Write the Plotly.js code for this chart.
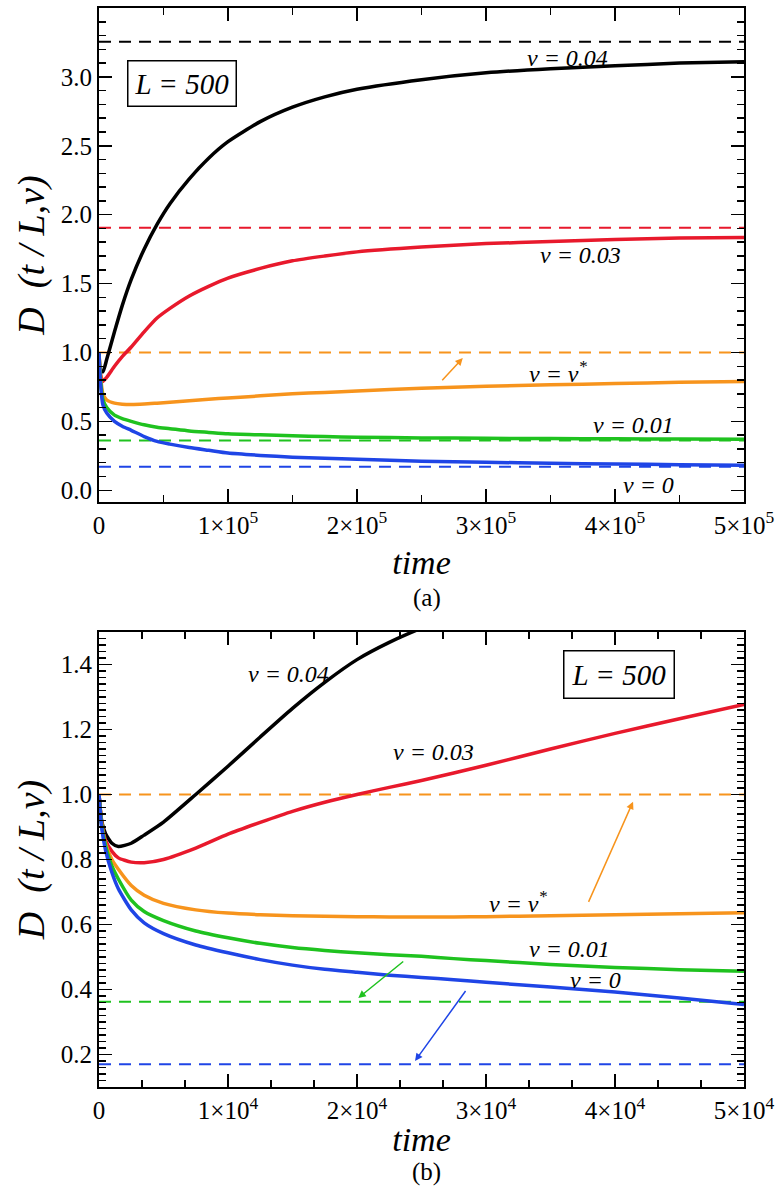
<!DOCTYPE html>
<html>
<head>
<meta charset="utf-8">
<script src="https://cdn.plot.ly/plotly-3.0.1.min.js"></script>
<style>html,body{margin:0;padding:0;background:#fff;}#chart{width:776px;height:1188px;}</style>
</head>
<body>
<div id="chart"></div>
<script>
// ---------- data: panel (a) ----------
const timeA = [0, 1000, 3000, 6000, 12000, 18000, 25000, 35000, 45000, 55000, 70000, 85000, 100000, 125000, 150000, 175000, 200000, 250000, 300000, 350000, 400000, 450000, 500000];
const aV004 = [1.0, 0.87, 0.86, 0.95, 1.15, 1.34, 1.53, 1.75, 1.93, 2.08, 2.26, 2.41, 2.53, 2.675, 2.78, 2.855, 2.91, 2.98, 3.03, 3.06, 3.08, 3.10, 3.11];
const aV003 = [1.0, 0.85, 0.79, 0.82, 0.90, 0.97, 1.04, 1.15, 1.25, 1.32, 1.41, 1.48, 1.54, 1.61, 1.665, 1.70, 1.73, 1.765, 1.79, 1.805, 1.82, 1.83, 1.835];
const aVstar = [1.0, 0.85, 0.70, 0.655, 0.632, 0.625, 0.623, 0.626, 0.632, 0.638, 0.65, 0.66, 0.67, 0.685, 0.70, 0.71, 0.72, 0.74, 0.755, 0.765, 0.775, 0.783, 0.79];
const aV001 = [1.0, 0.82, 0.66, 0.60, 0.545, 0.52, 0.50, 0.475, 0.458, 0.447, 0.43, 0.42, 0.41, 0.402, 0.395, 0.39, 0.385, 0.38, 0.377, 0.375, 0.373, 0.372, 0.371];
const aV0 = [1.0, 0.80, 0.62, 0.56, 0.50, 0.465, 0.435, 0.39, 0.355, 0.335, 0.31, 0.29, 0.27, 0.253, 0.24, 0.232, 0.225, 0.21, 0.203, 0.196, 0.19, 0.186, 0.182];

// ---------- data: panel (b) ----------
const timeB = [0, 200, 500, 1000, 1500, 2500, 3500, 5000, 7500, 10000, 12500, 15000, 17500, 20000, 22500, 25000, 27500, 30000, 35000, 40000, 45000, 50000];
const bV004 = [1.0, 0.92, 0.88, 0.85, 0.84, 0.85, 0.875, 0.915, 1.0, 1.087, 1.177, 1.265, 1.345, 1.415, 1.468, 1.512, 1.55, null, null, null, null, null];
const bV003 = [1.0, 0.92, 0.86, 0.825, 0.805, 0.792, 0.79, 0.80, 0.835, 0.878, 0.914, 0.948, 0.976, 1.0, 1.022, 1.043, 1.066, 1.09, 1.14, 1.188, 1.233, 1.277];
const bVstar = [1.0, 0.91, 0.85, 0.80, 0.77, 0.72, 0.69, 0.665, 0.645, 0.635, 0.63, 0.627, 0.625, 0.624, 0.623, 0.623, 0.623, 0.624, 0.627, 0.63, 0.633, 0.636];
const bV001 = [1.0, 0.91, 0.845, 0.78, 0.74, 0.675, 0.64, 0.612, 0.58, 0.559, 0.542, 0.529, 0.52, 0.513, 0.507, 0.502, 0.495, 0.489, 0.477, 0.468, 0.461, 0.456];
const bV0 = [1.0, 0.90, 0.83, 0.76, 0.71, 0.645, 0.605, 0.572, 0.537, 0.513, 0.492, 0.475, 0.462, 0.453, 0.444, 0.437, 0.43, 0.422, 0.408, 0.392, 0.374, 0.354];

// asymptotic (dashed) values, order: v=0.04, 0.03, v*, 0.01, 0
const asymptotes = [3.255, 1.905, 1.0, 0.362, 0.17];
const seriesLabels = ['v = 0.04', 'v = 0.03', 'v = v<sup>*</sup>', 'v = 0.01', 'v = 0'];
const colors = ['#000000', '#e8192c', '#f7941d', '#1fc21f', '#1f45e6'];

// tick labels
const xTickValsA = [0, 100000, 200000, 300000, 400000, 500000];
const xTickTextA = ['0', '1×10<sup>5</sup>', '2×10<sup>5</sup>', '3×10<sup>5</sup>', '4×10<sup>5</sup>', '5×10<sup>5</sup>'];
const xTickValsB = [0, 10000, 20000, 30000, 40000, 50000];
const xTickTextB = ['0', '1×10<sup>4</sup>', '2×10<sup>4</sup>', '3×10<sup>4</sup>', '4×10<sup>4</sup>', '5×10<sup>4</sup>'];

const serif = 'Liberation Serif';
const seriesA = [aV004, aV003, aVstar, aV001, aV0];
const seriesB = [bV004, bV003, bVstar, bV001, bV0];

const traces = [];
// dashed lines
asymptotes.forEach((c, i) => {
  traces.push({x: [0, 500000], y: [c, c], xaxis: 'x', yaxis: 'y', mode: 'lines',
    line: {color: colors[i], width: 2, dash: '12px,8px'}, hoverinfo: 'skip'});
  traces.push({x: [0, 50000], y: [c, c], xaxis: 'x2', yaxis: 'y2', mode: 'lines',
    line: {color: colors[i], width: 2, dash: '12px,8px'}, hoverinfo: 'skip'});
});
seriesA.forEach((s, i) => {
  traces.push({x: timeA, y: s, xaxis: 'x', yaxis: 'y', mode: 'lines',
    line: {color: colors[i], width: 3.5, shape: 'spline', smoothing: 0.6}});
});
seriesB.forEach((s, i) => {
  traces.push({x: timeB, y: s, xaxis: 'x2', yaxis: 'y2', mode: 'lines', connectgaps: false,
    line: {color: colors[i], width: 3.5, shape: 'spline', smoothing: 0.6}});
});

const axisCommon = {
  showline: true, linecolor: '#000', linewidth: 2, mirror: 'allticks',
  ticks: 'inside', tickcolor: '#000', tickwidth: 1.5, ticklen: 13,
  showgrid: false, zeroline: false,
  tickfont: {family: serif, size: 25, color: '#000'}
};

function xaxisDef(vals, text, range, minorDtick, anchor, standoff) {
  return Object.assign({}, axisCommon, {
    range: range, tickmode: 'array', tickvals: vals, ticktext: text, anchor: anchor,
    minor: {dtick: minorDtick, ticks: 'inside', ticklen: 7, tickwidth: 1.5, tickcolor: '#000'},
    title: {text: '<i>time</i>', font: {family: serif, size: 34, color: '#000'}, standoff: standoff}
  });
}
function yaxisDef(range, dtick, minorDtick, fmt, domain, anchor) {
  return Object.assign({}, axisCommon, {
    range: range, tickmode: 'linear', tick0: 0, dtick: dtick, tickformat: fmt, domain: domain, anchor: anchor,
    minor: {dtick: minorDtick, ticks: 'inside', ticklen: 7, tickwidth: 1.5, tickcolor: '#000'},
    title: {text: '<i>D\u00a0\u00a0(t\u00a0/\u00a0L,v)</i>', font: {family: serif, size: 38, color: '#000'}, standoff: 4}
  });
}

const annFont = {family: serif, size: 24, color: '#000'};
function lab(text, x, y, xref, yref) {
  return {text: '<i>' + text + '</i>', x: x, y: y, xref: xref, yref: yref, showarrow: false, font: annFont};
}
function arrow(x, y, ax, ay, color, xref, yref) {
  return {x: x, y: y, ax: ax, ay: ay, xref: xref, yref: yref, axref: xref, ayref: yref,
    showarrow: true, arrowhead: 2, arrowsize: 1, arrowwidth: 1.5, arrowcolor: color, text: ''};
}

const annotations = [
  // panel (a)
  lab(seriesLabels[0], 363000, 3.14, 'x', 'y'),
  lab(seriesLabels[1], 373000, 1.71, 'x', 'y'),
  lab(seriesLabels[2], 356000, 0.86, 'x', 'y'),
  lab(seriesLabels[3], 414000, 0.47, 'x', 'y'),
  lab(seriesLabels[4], 426000, 0.04, 'x', 'y'),
  {text: '<i>L = 500</i>', x: 64000, y: 2.95, xref: 'x', yref: 'y', showarrow: false,
    font: {family: serif, size: 29, color: '#000'}, bordercolor: '#000', borderwidth: 1.5, borderpad: 6, bgcolor: '#fff'},
  arrow(282000, 0.96, 265000, 0.787, colors[2], 'x', 'y'),
  // panel (b)
  lab(seriesLabels[0], 14700, 1.37, 'x2', 'y2'),
  lab(seriesLabels[1], 25900, 1.13, 'x2', 'y2'),
  lab(seriesLabels[2], 32500, 0.67, 'x2', 'y2'),
  lab(seriesLabels[3], 36500, 0.526, 'x2', 'y2'),
  lab(seriesLabels[4], 38500, 0.428, 'x2', 'y2'),
  {text: '<i>L = 500</i>', x: 40300, y: 1.368, xref: 'x2', yref: 'y2', showarrow: false,
    font: {family: serif, size: 29, color: '#000'}, bordercolor: '#000', borderwidth: 1.5, borderpad: 7, bgcolor: '#fff'},
  arrow(41400, 0.978, 37900, 0.665, colors[2], 'x2', 'y2'),
  arrow(20100, 0.374, 23700, 0.49, colors[3], 'x2', 'y2'),
  arrow(24500, 0.18, 28500, 0.40, colors[4], 'x2', 'y2'),
  // panel captions
  {text: '(a)', x: 0.5085, y: 0.453, xref: 'paper', yref: 'paper', yanchor: 'middle', showarrow: false,
    font: {family: serif, size: 25, color: '#000'}},
  {text: '(b)', x: 0.5085, y: -0.0788, xref: 'paper', yref: 'paper', yanchor: 'middle', showarrow: false,
    font: {family: serif, size: 25, color: '#000'}}
];

const layout = {
  width: 776, height: 1188,
  margin: {l: 99, r: 32, t: 8, b: 101},
  paper_bgcolor: '#fff', plot_bgcolor: '#fff',
  showlegend: false,
  xaxis: xaxisDef(xTickValsA, xTickTextA, [0, 500000], 50000, 'y', 12),
  yaxis: yaxisDef([-0.085, 3.5], 0.5, 0.1, '.1f', [0.5422, 1], 'x'),
  xaxis2: xaxisDef(xTickValsB, xTickTextB, [0, 50000], 10000 / 3, 'y2', 4),
  yaxis2: yaxisDef([0.1, 1.5], 0.2, 0.02, '.1f', [0, 0.4217], 'x2'),
  annotations: annotations
};

Plotly.newPlot('chart', traces, layout, {staticPlot: true});
</script>
</body>
</html>
